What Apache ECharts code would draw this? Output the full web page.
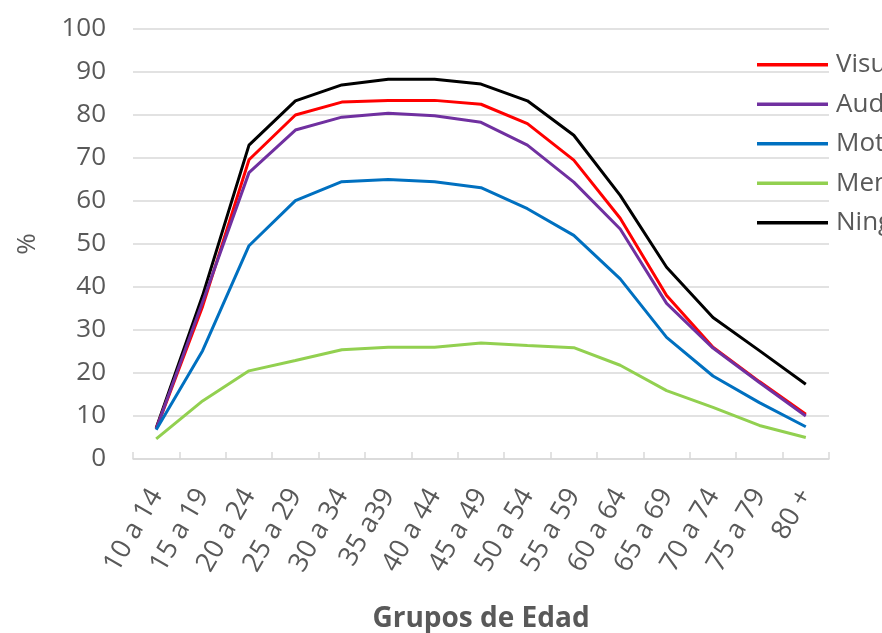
<!DOCTYPE html>
<html>
<head>
<meta charset="utf-8">
<script src="https://cdn.jsdelivr.net/npm/echarts@6/dist/echarts.min.js"></script>
<style>html,body{margin:0;padding:0;background:#fff;}#c{width:882px;height:633px;}</style>
</head>
<body>
<div id="c"></div>
<script>
const categories = ["10 a 14","15 a 19","20 a 24","25 a 29","30 a 34","35 a39","40 a 44","45 a 49","50 a 54","55 a 59","60 a 64","65 a 69","70 a 74","75 a 79","80 +"];
const visual   = [7.0, 35.5, 69.6, 80.0, 83.0, 83.4, 83.4, 82.5, 78.0, 69.5, 56.0, 38.0, 26.0, 18.0, 10.4];
const auditiva = [7.0, 36.5, 66.6, 76.5, 79.5, 80.4, 79.8, 78.3, 73.0, 64.4, 53.5, 36.2, 25.8, 17.8, 10.0];
const motora   = [6.8, 25.2, 49.6, 60.1, 64.5, 65.0, 64.5, 63.1, 58.2, 52.0, 41.9, 28.3, 19.3, 13.1, 7.5];
const mental   = [4.7, 13.5, 20.5, 22.9, 25.4, 26.0, 26.0, 27.0, 26.4, 25.9, 21.8, 15.9, 12.0, 7.8, 5.0];
const ninguna  = [7.2, 38.0, 73.0, 83.3, 87.0, 88.3, 88.3, 87.2, 83.3, 75.3, 61.3, 44.6, 32.9, 25.2, 17.4];
const seriesNames = ["Visual","Auditiva","Motora","Mental","Ninguna"];
const yTicks = {min: 0, max: 100, interval: 10};

const colors = ["#ff0000","#7030a0","#0070c0","#92d050","#000000"];
const dataSets = [visual, auditiva, motora, mental, ninguna];
const font = "'Open Sans', sans-serif";
const chart = echarts.init(document.getElementById('c'));
chart.setOption({
  animation: false,
  backgroundColor: '#ffffff',
  grid: {left: 133, right: 53, top: 29, bottom: 174, containLabel: false, outerBoundsMode: 'none'},
  legend: {
    orient: 'vertical', left: 752, top: 46, icon: 'rect',
    itemWidth: 71, itemHeight: 3.5, itemGap: 12,
    textStyle: {fontFamily: font, fontSize: 26, color: '#595959', lineHeight: 27.5, padding: [0,0,0,3]},
    data: seriesNames
  },
  xAxis: {
    type: 'category', data: categories, boundaryGap: true,
    name: 'Grupos de Edad', nameLocation: 'middle', nameGap: 146,
    nameTextStyle: {fontFamily: font, fontSize: 28, fontWeight: 'bold', color: '#595959'},
    axisLine: {lineStyle: {color: '#d9d9d9', width: 1.5}},
    axisTick: {show: true, inside: true, length: 7, lineStyle: {color: '#d9d9d9', width: 1.5}},
    axisLabel: {rotate: 60, margin: 32, fontFamily: font, fontSize: 27, color: '#595959', interval: 0},
    splitLine: {show: false}
  },
  yAxis: {
    type: 'value', min: yTicks.min, max: yTicks.max, interval: yTicks.interval,
    name: '%', nameLocation: 'middle', nameGap: 92, nameRotate: 90,
    nameTextStyle: {fontFamily: font, fontSize: 26, color: '#595959'},
    axisLine: {show: false}, axisTick: {show: false},
    axisLabel: {margin: 27, fontFamily: font, fontSize: 26, color: '#595959'},
    splitLine: {lineStyle: {color: '#d9d9d9', width: 1.5}}
  },
  series: seriesNames.map((n, i) => ({
    name: n, type: 'line', data: dataSets[i], symbol: 'none', showSymbol: false,
    smooth: false, z: i === 4 ? 1 : 2 + i,
    lineStyle: {color: colors[i], width: 3}, itemStyle: {color: colors[i]}
  }))
});
</script>
</body>
</html>
